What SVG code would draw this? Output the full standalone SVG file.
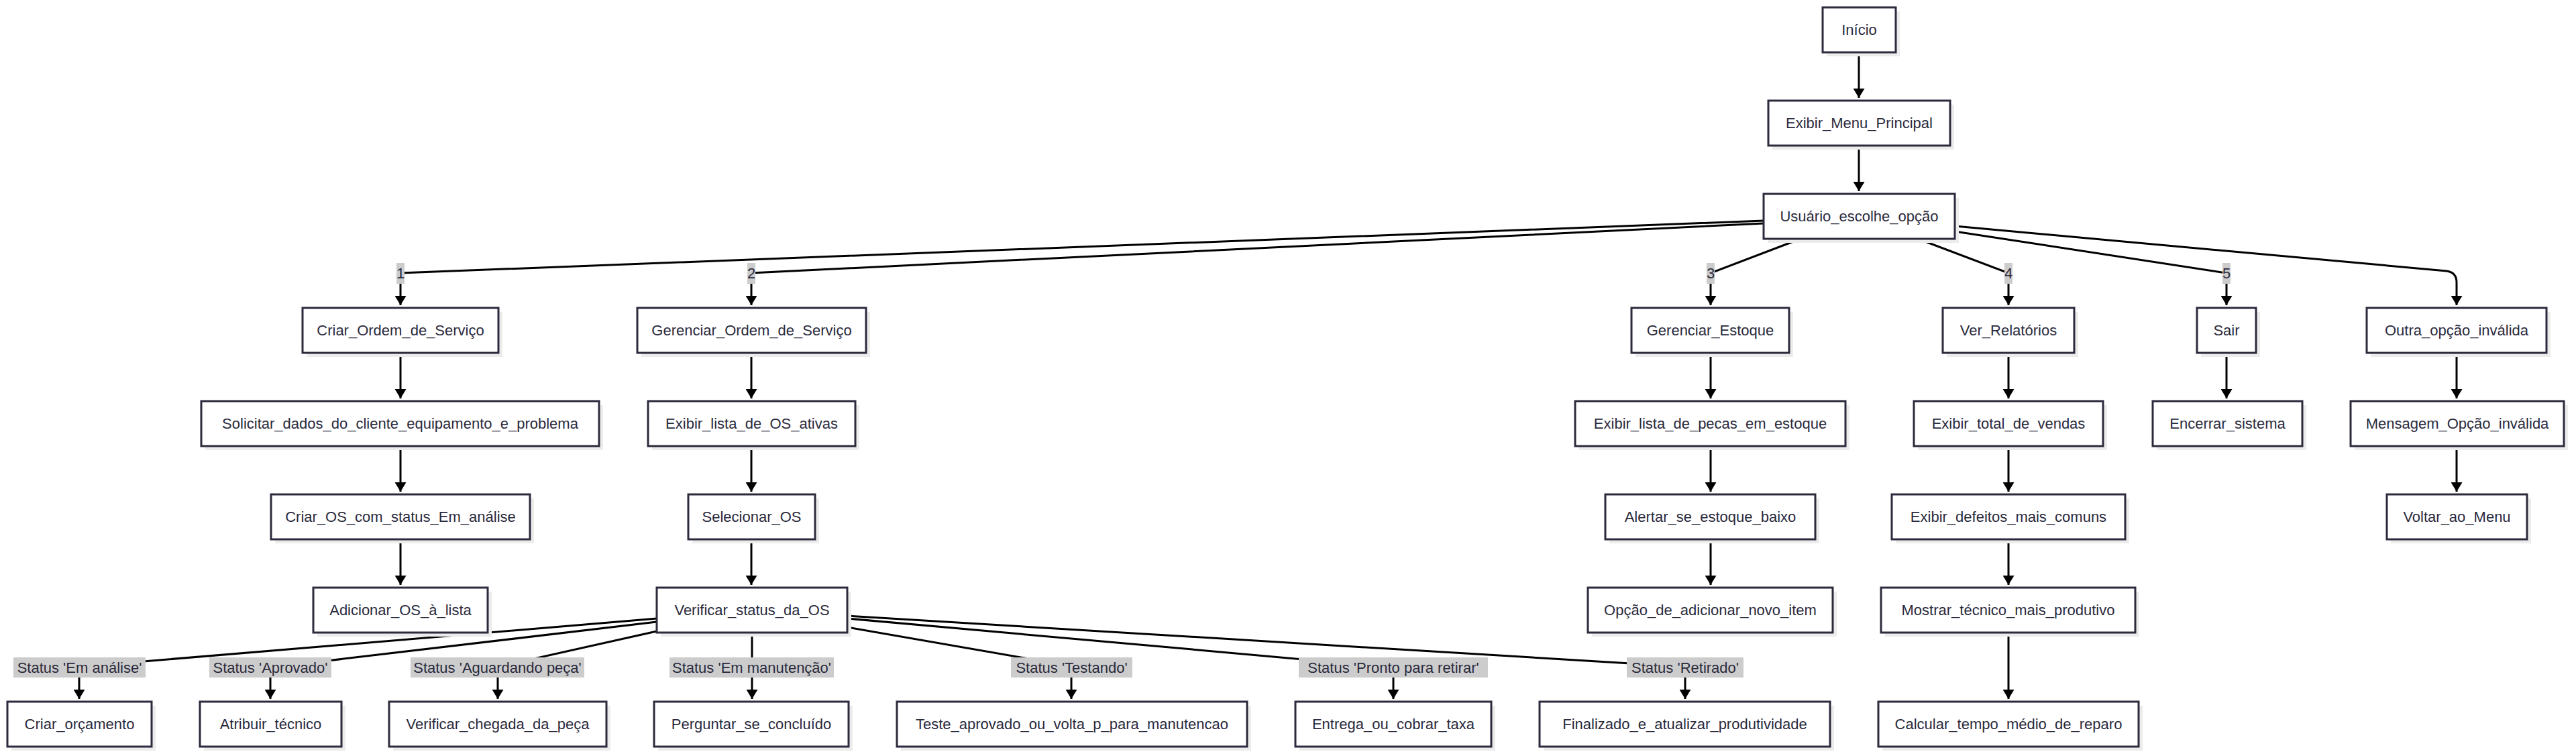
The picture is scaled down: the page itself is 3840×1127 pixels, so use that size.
<svg xmlns="http://www.w3.org/2000/svg" width="3840" height="1127" viewBox="0 0 3840 1127">
<style>
.bg{fill:#ffffff}
.sh{fill:#ececec}
.box{fill:#ffffff;stroke:#2b2b3d;stroke-width:3}
.t{font-family:"Liberation Sans",Arial,sans-serif;font-size:22px;fill:#2a2a3c;text-anchor:middle;dominant-baseline:central}
.e{fill:none;stroke:#000000;stroke-width:3}
.lb{fill:#cccccc}
</style>
<defs>
<marker id="arr" viewBox="0 0 14 17" refX="14" refY="8.5" markerWidth="14" markerHeight="17" markerUnits="userSpaceOnUse" orient="auto">
<path d="M0 0 L14 8.5 L0 17 Z" fill="#000000"/>
</marker>
</defs>
<rect class="bg" x="0" y="0" width="3840" height="1127"/>

<g id="connectors">
<path class="e" d="M2771 78 V146" marker-end="url(#arr)"/>
<path class="e" d="M2771 217 V285" marker-end="url(#arr)"/>
<path class="e" d="M2629 329 L597 407 V455" marker-end="url(#arr)"/>
<path class="e" d="M2629 333 L1120 407 V455" marker-end="url(#arr)"/>
<path class="e" d="M2684 356 L2550 407 V455" marker-end="url(#arr)"/>
<path class="e" d="M2859 356 L2994 407 V455" marker-end="url(#arr)"/>
<path class="e" d="M2914 345 L3319 407 V455" marker-end="url(#arr)"/>
<path class="e" d="M2914 337 L3647 404 Q3662 406 3662 421 V455" marker-end="url(#arr)"/>
<path class="e" d="M597 526 V594" marker-end="url(#arr)"/>
<path class="e" d="M597 665 V733" marker-end="url(#arr)"/>
<path class="e" d="M597 804 V872" marker-end="url(#arr)"/>
<path class="e" d="M1120 526 V594" marker-end="url(#arr)"/>
<path class="e" d="M1120 665 V733" marker-end="url(#arr)"/>
<path class="e" d="M1120 804 V872" marker-end="url(#arr)"/>
<path class="e" d="M2550 526 V594" marker-end="url(#arr)"/>
<path class="e" d="M2550 665 V733" marker-end="url(#arr)"/>
<path class="e" d="M2550 804 V872" marker-end="url(#arr)"/>
<path class="e" d="M2994 526 V594" marker-end="url(#arr)"/>
<path class="e" d="M2994 665 V733" marker-end="url(#arr)"/>
<path class="e" d="M2994 804 V872" marker-end="url(#arr)"/>
<path class="e" d="M2994 943 V1042" marker-end="url(#arr)"/>
<path class="e" d="M3319 526 V594" marker-end="url(#arr)"/>
<path class="e" d="M3662 526 V594" marker-end="url(#arr)"/>
<path class="e" d="M3662 665 V733" marker-end="url(#arr)"/>
<path class="e" d="M979 922 L118 994 V1042" marker-end="url(#arr)"/>
<path class="e" d="M979 927 L403 995 V1042" marker-end="url(#arr)"/>
<path class="e" d="M979 941 L742 994 V1042" marker-end="url(#arr)"/>
<path class="e" d="M1121 943 V1042" marker-end="url(#arr)"/>
<path class="e" d="M1263 935 L1597 993 V1042" marker-end="url(#arr)"/>
<path class="e" d="M1263 922 L2077 995 V1042" marker-end="url(#arr)"/>
<path class="e" d="M1263 918 L2512 994 V1042" marker-end="url(#arr)"/>

<g id="edge-labels">
<rect class="lb" x="591" y="392" width="12" height="31"/><text class="t" x="597" y="407.5">1</text>
<rect class="lb" x="1114" y="392" width="12" height="31"/><text class="t" x="1120" y="407.5">2</text>
<rect class="lb" x="2544" y="392" width="12" height="31"/><text class="t" x="2550" y="407.5">3</text>
<rect class="lb" x="2988" y="392" width="12" height="31"/><text class="t" x="2994" y="407.5">4</text>
<rect class="lb" x="3313" y="392" width="12" height="31"/><text class="t" x="3319" y="407.5">5</text>
<rect class="lb" x="20" y="980" width="197" height="30"/><text class="t" x="118.5" y="995">Status 'Em análise'</text>
<rect class="lb" x="312" y="980" width="182" height="30"/><text class="t" x="403" y="995">Status 'Aprovado'</text>
<rect class="lb" x="612" y="980" width="259" height="30"/><text class="t" x="741.5" y="995">Status 'Aguardando peça'</text>
<rect class="lb" x="998" y="980" width="245" height="30"/><text class="t" x="1120.5" y="995">Status 'Em manutenção'</text>
<rect class="lb" x="1507" y="980" width="181" height="30"/><text class="t" x="1597.5" y="995">Status 'Testando'</text>
<rect class="lb" x="1936" y="980" width="282" height="30"/><text class="t" x="2077" y="995">Status 'Pronto para retirar'</text>
<rect class="lb" x="2425" y="980" width="174" height="30"/><text class="t" x="2512" y="995">Status 'Retirado'</text>
</g>
</g>

<g id="n-inicio"><rect class="sh" x="2723" y="17" width="109" height="67"/><rect class="box" x="2717" y="11" width="109" height="67"/><text class="t" x="2771.5" y="44.5">Início</text></g>
<g id="n-menu"><rect class="sh" x="2642" y="156" width="271" height="67"/><rect class="box" x="2636" y="150" width="271" height="67"/><text class="t" x="2771.5" y="183.5">Exibir_Menu_Principal</text></g>
<g id="n-usuario"><rect class="sh" x="2635" y="295" width="285" height="67"/><rect class="box" x="2629" y="289" width="285" height="67"/><text class="t" x="2771.5" y="322.5">Usuário_escolhe_opção</text></g>

<g id="n-criarOrdem"><rect class="sh" x="457" y="465" width="292" height="67"/><rect class="box" x="451" y="459" width="292" height="67"/><text class="t" x="597" y="492.5">Criar_Ordem_de_Serviço</text></g>
<g id="n-solicitar"><rect class="sh" x="306" y="604" width="593" height="67"/><rect class="box" x="300" y="598" width="593" height="67"/><text class="t" x="596.5" y="631.5">Solicitar_dados_do_cliente_equipamento_e_problema</text></g>
<g id="n-criarOS"><rect class="sh" x="410" y="743" width="386" height="67"/><rect class="box" x="404" y="737" width="386" height="67"/><text class="t" x="597" y="770.5">Criar_OS_com_status_Em_análise</text></g>
<g id="n-adicionar"><rect class="sh" x="473" y="882" width="260" height="67"/><rect class="box" x="467" y="876" width="260" height="67"/><text class="t" x="597" y="909.5">Adicionar_OS_à_lista</text></g>

<g id="n-gerOrdem"><rect class="sh" x="956" y="465" width="341" height="67"/><rect class="box" x="950" y="459" width="341" height="67"/><text class="t" x="1120.5" y="492.5">Gerenciar_Ordem_de_Serviço</text></g>
<g id="n-exibirLista"><rect class="sh" x="972" y="604" width="309" height="67"/><rect class="box" x="966" y="598" width="309" height="67"/><text class="t" x="1120.5" y="631.5">Exibir_lista_de_OS_ativas</text></g>
<g id="n-selecionar"><rect class="sh" x="1032" y="743" width="189" height="67"/><rect class="box" x="1026" y="737" width="189" height="67"/><text class="t" x="1120.5" y="770.5">Selecionar_OS</text></g>
<g id="n-verificar"><rect class="sh" x="985" y="882" width="284" height="67"/><rect class="box" x="979" y="876" width="284" height="67"/><text class="t" x="1121" y="909.5">Verificar_status_da_OS</text></g>

<g id="n-gerEstoque"><rect class="sh" x="2438" y="465" width="235" height="67"/><rect class="box" x="2432" y="459" width="235" height="67"/><text class="t" x="2549.5" y="492.5">Gerenciar_Estoque</text></g>
<g id="n-exibirPecas"><rect class="sh" x="2354" y="604" width="403" height="67"/><rect class="box" x="2348" y="598" width="403" height="67"/><text class="t" x="2549.5" y="631.5">Exibir_lista_de_pecas_em_estoque</text></g>
<g id="n-alertar"><rect class="sh" x="2399" y="743" width="313" height="67"/><rect class="box" x="2393" y="737" width="313" height="67"/><text class="t" x="2549.5" y="770.5">Alertar_se_estoque_baixo</text></g>
<g id="n-opcaoAdd"><rect class="sh" x="2373" y="882" width="365" height="67"/><rect class="box" x="2367" y="876" width="365" height="67"/><text class="t" x="2549.5" y="909.5">Opção_de_adicionar_novo_item</text></g>

<g id="n-verRel"><rect class="sh" x="2902" y="465" width="196" height="67"/><rect class="box" x="2896" y="459" width="196" height="67"/><text class="t" x="2994" y="492.5">Ver_Relatórios</text></g>
<g id="n-totalVendas"><rect class="sh" x="2859" y="604" width="282" height="67"/><rect class="box" x="2853" y="598" width="282" height="67"/><text class="t" x="2994" y="631.5">Exibir_total_de_vendas</text></g>
<g id="n-defeitos"><rect class="sh" x="2826" y="743" width="348" height="67"/><rect class="box" x="2820" y="737" width="348" height="67"/><text class="t" x="2994" y="770.5">Exibir_defeitos_mais_comuns</text></g>
<g id="n-mostrar"><rect class="sh" x="2810" y="882" width="379" height="67"/><rect class="box" x="2804" y="876" width="379" height="67"/><text class="t" x="2993.5" y="909.5">Mostrar_técnico_mais_produtivo</text></g>
<g id="n-calcular"><rect class="sh" x="2806" y="1052" width="388" height="67"/><rect class="box" x="2800" y="1046" width="388" height="67"/><text class="t" x="2994" y="1079.5">Calcular_tempo_médio_de_reparo</text></g>

<g id="n-sair"><rect class="sh" x="3281" y="465" width="88" height="67"/><rect class="box" x="3275" y="459" width="88" height="67"/><text class="t" x="3319" y="492.5">Sair</text></g>
<g id="n-encerrar"><rect class="sh" x="3215" y="604" width="223" height="67"/><rect class="box" x="3209" y="598" width="223" height="67"/><text class="t" x="3320.5" y="631.5">Encerrar_sistema</text></g>

<g id="n-outra"><rect class="sh" x="3534" y="465" width="268" height="67"/><rect class="box" x="3528" y="459" width="268" height="67"/><text class="t" x="3662" y="492.5">Outra_opção_inválida</text></g>
<g id="n-mensagem"><rect class="sh" x="3510" y="604" width="318" height="67"/><rect class="box" x="3504" y="598" width="318" height="67"/><text class="t" x="3663" y="631.5">Mensagem_Opção_inválida</text></g>
<g id="n-voltar"><rect class="sh" x="3564" y="743" width="209" height="67"/><rect class="box" x="3558" y="737" width="209" height="67"/><text class="t" x="3662.5" y="770.5">Voltar_ao_Menu</text></g>

<g id="n-orcamento"><rect class="sh" x="17" y="1052" width="215" height="67"/><rect class="box" x="11" y="1046" width="215" height="67"/><text class="t" x="118.5" y="1079.5">Criar_orçamento</text></g>
<g id="n-atribuir"><rect class="sh" x="304" y="1052" width="211" height="67"/><rect class="box" x="298" y="1046" width="211" height="67"/><text class="t" x="403.5" y="1079.5">Atribuir_técnico</text></g>
<g id="n-chegada"><rect class="sh" x="586" y="1052" width="324" height="67"/><rect class="box" x="580" y="1046" width="324" height="67"/><text class="t" x="742" y="1079.5">Verificar_chegada_da_peça</text></g>
<g id="n-perguntar"><rect class="sh" x="981" y="1052" width="290" height="67"/><rect class="box" x="975" y="1046" width="290" height="67"/><text class="t" x="1120" y="1079.5">Perguntar_se_concluído</text></g>
<g id="n-teste"><rect class="sh" x="1343" y="1052" width="522" height="67"/><rect class="box" x="1337" y="1046" width="522" height="67"/><text class="t" x="1598" y="1079.5">Teste_aprovado_ou_volta_p_para_manutencao</text></g>
<g id="n-entrega"><rect class="sh" x="1937" y="1052" width="292" height="67"/><rect class="box" x="1931" y="1046" width="292" height="67"/><text class="t" x="2077" y="1079.5">Entrega_ou_cobrar_taxa</text></g>
<g id="n-finalizado"><rect class="sh" x="2301" y="1052" width="433" height="67"/><rect class="box" x="2295" y="1046" width="433" height="67"/><text class="t" x="2511.5" y="1079.5">Finalizado_e_atualizar_produtividade</text></g>
</svg>
